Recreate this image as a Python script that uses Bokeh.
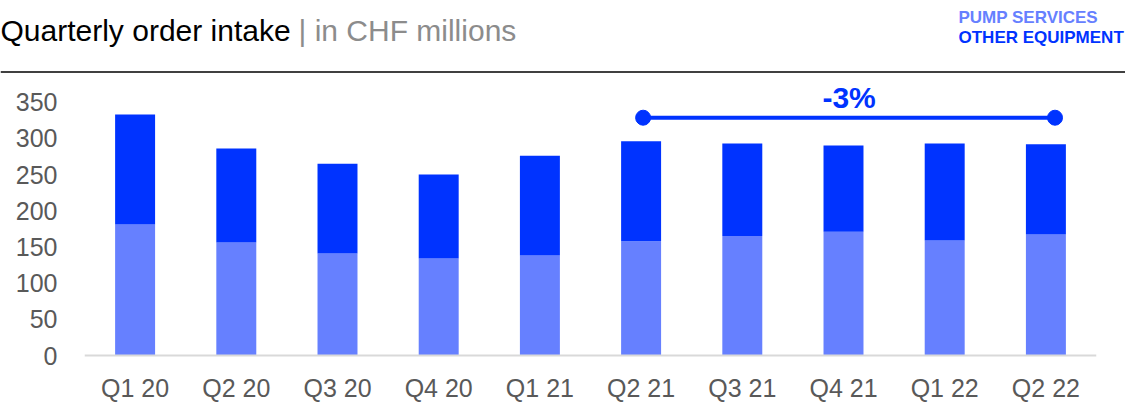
from bokeh.plotting import figure
from bokeh.layouts import column
from bokeh.models import Range1d, FactorRange, ColumnDataSource, FixedTicker
from bokeh.transform import dodge
from bokeh.core.properties import value
from bokeh.embed import file_html
from bokeh.resources import INLINE

# ---- data ----
quarters = ["Q1 20", "Q2 20", "Q3 20", "Q4 20", "Q1 21", "Q2 21", "Q3 21", "Q4 21", "Q1 22", "Q2 22"]
series_names = ["PUMP SERVICES", "OTHER EQUIPMENT"]
pump_services = [181, 156, 141, 134, 138, 158, 165, 171, 159, 167]
other_equipment = [152, 130, 124, 116, 138, 138, 128, 119, 134, 125]
y_ticks = [0, 50, 100, 150, 200, 250, 300, 350]
title_text = "Quarterly order intake"
unit_text = "| in CHF millions"
change_text = "-3%"
change_from = "Q2 21"
change_to = "Q2 22"
change_level = 328.5

LIGHT = "#6680ff"
DARK = "#0033ff"
GREY = "#595959"
W = 1125
HEAD_H = 80

# ---- header (title, legend, rule) ----
h = figure(width=W, height=HEAD_H, x_range=Range1d(0, W), y_range=Range1d(0, HEAD_H),
           x_axis_location=None, y_axis_location=None, output_backend="svg", toolbar_location=None,
           min_border=0)
h.frame_align = False
h.outline_line_color = None
h.xgrid.grid_line_color = None
h.ygrid.grid_line_color = None
h.text(x=[0], y=[50.5], text=[title_text], text_font=value("Liberation Sans"), text_font_size="30px",
       text_color="#000000", text_baseline="alphabetic", text_align="left")
h.text(x=[298], y=[50.5], text=[unit_text], text_font=value("Liberation Sans"), text_font_size="30px",
       text_color="#8c8c8c", text_baseline="alphabetic", text_align="left")
h.text(x=[958, 958], y=[63.3, 43.3], text=series_names, text_font=value("Liberation Sans"),
       text_font_style="bold", text_font_size="17px", text_color=[LIGHT, DARK],
       text_baseline="alphabetic", text_align="left")
h.segment(x0=[0], x1=[W], y0=[8.5], y1=[8.5], line_color="#404040", line_width=2)

# ---- main chart ----
p = figure(width=W, height=402 - HEAD_H, x_range=FactorRange(*quarters), y_range=Range1d(-64.9, 379.9),
           x_axis_location=None, output_backend="svg", toolbar_location=None,
           min_border_left=84, min_border_right=29, min_border_top=0, min_border_bottom=0)
p.frame_align = False
p.outline_line_color = None
p.xgrid.grid_line_color = None
p.ygrid.grid_line_color = None

src = ColumnDataSource(dict(q=quarters, pump=pump_services, other=other_equipment))
p.vbar_stack(["pump", "other"], x="q", width=0.395, color=[LIGHT, DARK], line_color=None, source=src)
p.hspan(y=[0], line_color="#d9d9d9", line_width=2)

# category labels below the baseline
p.text(x="q", y=-44.5, text="q", text_align="center", text_baseline="alphabetic",
       text_font=value("Liberation Sans"), text_font_size="25px", text_color=GREY, source=src)

# y axis
p.yaxis.ticker = FixedTicker(ticks=y_ticks)
p.yaxis.axis_line_color = None
p.yaxis.major_tick_line_color = None
p.yaxis.minor_tick_line_color = None
p.yaxis.major_tick_out = 0
p.yaxis.major_label_text_font = "Liberation Sans"
p.yaxis.major_label_text_font_size = "25px"
p.yaxis.major_label_text_color = GREY
p.yaxis.major_label_standoff = 27

# change annotation
i0, i1 = quarters.index(change_from), quarters.index(change_to)
csrc = ColumnDataSource(dict(x0=[change_from], x1=[change_to], mid=[quarters[(i0 + i1) // 2]],
                             y=[change_level], ty=[change_level + 28], t=[change_text]))
p.segment(x0=dodge("x0", 0.02, range=p.x_range), x1=dodge("x1", 0.09, range=p.x_range),
          y0="y", y1="y", line_color=DARK, line_width=4, source=csrc)
p.scatter(x=dodge("x0", 0.02, range=p.x_range), y="y", size=15, color=DARK, source=csrc)
p.scatter(x=dodge("x1", 0.09, range=p.x_range), y="y", size=15, color=DARK, source=csrc)
p.text(x=dodge("mid", 0.055, range=p.x_range), y="ty", text="t", text_align="center",
       text_baseline="alphabetic", text_font=value("Liberation Sans"), text_font_style="bold",
       text_font_size="30px", text_color=DARK, source=csrc)

layout = column(h, p, spacing=0)
open("out.html", "w").write(file_html(layout, INLINE))
